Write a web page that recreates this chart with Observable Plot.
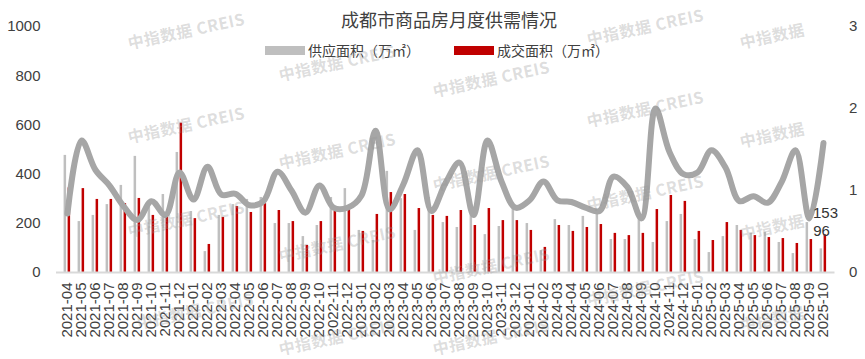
<!DOCTYPE html>
<html><head><meta charset="utf-8">
<script src="https://cdn.jsdelivr.net/npm/d3@7"></script>
<script src="https://cdn.jsdelivr.net/npm/@observablehq/plot@0.6"></script>
<style>
body{margin:0;background:#fff;}
#wrap{position:relative;width:865px;height:359px;overflow:hidden;font-family:"Noto Sans CJK SC","Noto Sans",sans-serif;background:#fff;}
#chart{position:absolute;left:0;top:0;}
#title{position:absolute;left:449px;top:7px;transform:translateX(-50%);white-space:nowrap;font-size:18px;line-height:24px;color:#404040;}
.leg{position:absolute;top:40px;height:20px;display:flex;align-items:center;font-size:14px;color:#404040;white-space:nowrap;}
.sw{width:40px;height:9px;margin-right:3px;}
.wm{position:absolute;white-space:nowrap;font-size:16px;line-height:16px;font-weight:bold;color:rgba(150,150,150,0.32);transform:translate(-50%,-50%) rotate(-12deg);pointer-events:none;letter-spacing:0.5px;}
</style>
</head><body>
<div id="wrap">
  <div id="chart"></div>
  <div id="title">成都市商品房月度供需情况</div>
  <div class="leg" style="left:265px"><div class="sw" style="background:#BFBFBF"></div>供应面积（万㎡）</div>
  <div class="leg" style="left:454px"><div class="sw" style="background:#C00000"></div>成交面积（万㎡）</div>
</div>
<script>
const months = ["2021-04","2021-05","2021-06","2021-07","2021-08","2021-09","2021-10","2021-11","2021-12",
"2022-01","2022-02","2022-03","2022-04","2022-05","2022-06","2022-07","2022-08","2022-09","2022-10","2022-11","2022-12",
"2023-01","2023-02","2023-03","2023-04","2023-05","2023-06","2023-07","2023-08","2023-09","2023-10","2023-11","2023-12",
"2024-01","2024-02","2024-03","2024-04","2024-05","2024-06","2024-07","2024-08","2024-09","2024-10","2024-11","2024-12",
"2025-01","2025-02","2025-03","2025-04","2025-05","2025-06","2025-07","2025-08","2025-09","2025-10"];
const supply = [476,207,232,276,354,472,264,317,488,248,85,232,276,297,305,199,199,146,191,305,341,171,130,411,300,171,305,203,183,273,154,187,268,199,89,215,191,228,257,134,134,241,122,207,236,134,81,146,191,159,163,122,77,203,96];
const sales = [344,341,297,297,280,301,232,224,607,219,114,224,268,244,280,252,207,110,207,248,260,167,236,325,317,260,232,228,252,191,260,211,211,171,102,191,167,183,195,159,150,159,256,313,289,167,130,203,171,150,142,138,118,134,153];
const ratio = [0.72,1.61,1.25,1.06,0.81,0.64,0.87,0.70,1.22,0.89,1.29,0.95,0.96,0.82,0.87,1.23,1.00,0.73,1.06,0.79,0.79,0.94,1.73,0.77,1.08,1.49,0.75,1.09,1.34,0.70,1.61,1.11,0.79,0.88,1.11,0.88,0.86,0.79,0.75,1.17,1.04,0.66,2.00,1.47,1.20,1.22,1.49,1.28,0.87,0.93,0.85,1.10,1.49,0.66,1.58];
const leftTicks = [0,200,400,600,800,1000];
const rightTicks = [0,1,2,3];

const K = 1000/3;
const data = months.map((m,i)=>({month:m, supply:supply[i], sales:sales[i], ratio:ratio[i]}));
const last = [data[data.length-1]];

const chart = Plot.plot({
  width:865, height:359,
  marginLeft:56, marginRight:30.5, marginTop:26, marginBottom:87,
  style:{fontFamily:"'Liberation Sans', Arial, sans-serif", fontSize:"15px", color:"#404040", background:"transparent", overflow:"visible"},
  x:{type:"band", domain:months, padding:0, label:null},
  y:{domain:[0,1000], label:null},
  marks:[
    Plot.axisY({ticks:leftTicks, tickFormat:d=>String(d), tickSize:0, tickPadding:16, label:null, fontSize:15}),
    Plot.axisY({anchor:"right", ticks:rightTicks.map(t=>t*K), tickFormat:d=>String(Math.round(d/K)), tickSize:0, tickPadding:14, label:null, fontSize:15}),
    Plot.axisX({tickRotate:-90, tickSize:0, tickPadding:10, label:null, fontSize:15}),
    Plot.barY(data,{x:"month", y:"supply", fill:"#BFBFBF", insetLeft:3.6, insetRight:7.9}),
    Plot.barY(data,{x:"month", y:"sales", fill:"#C00000", insetLeft:7.6, insetRight:3.9}),
    Plot.ruleY([0],{stroke:"#D9D9D9", strokeWidth:2}),
    Plot.line(data,{x:"month", y:d=>d.ratio*K, stroke:"#A6A6A6", strokeWidth:6, curve:"catmull-rom"}),
    Plot.text(last,{x:"month", y:"sales", text:d=>String(d.sales), dx:2, dy:-22, fontSize:15, fill:"#333"}),
    Plot.text(last,{x:"month", y:"supply", text:d=>String(d.supply), dx:-2, dy:-18, fontSize:15, fill:"#333"})
  ]
});
document.getElementById("chart").appendChild(chart);

const wm = [
 [186,30,"中指数据 CREIS"],[186,124,"中指数据 CREIS"],[186,218,"中指数据 CREIS"],[195,310,"中指数据 CREIS"],
 [337,62,"中指数据 CREIS"],[337,150,"中指数据 CREIS"],[337,243,"中指数据 CREIS"],[337,336,"中指数据 CREIS"],
 [491,78,"中指数据 CREIS"],[491,172,"中指数据 CREIS"],[491,265,"中指数据 CREIS"],[491,336,"中指数据 CREIS"],
 [645,26,"中指数据 CREIS"],[645,108,"中指数据 CREIS"],[645,192,"中指数据 CREIS"],[645,287,"中指数据 CREIS"],
 [772,35,"中指数据"],[772,134,"中指数据"],[772,226,"中指数据"],[772,318,"中指数据"]
];
const wrap = document.getElementById("wrap");
for (const [x,y,t] of wm) {
  const d = document.createElement("div");
  d.className = "wm"; d.textContent = t;
  d.style.left = x+"px"; d.style.top = y+"px";
  wrap.appendChild(d);
}
</script>
</body></html>
